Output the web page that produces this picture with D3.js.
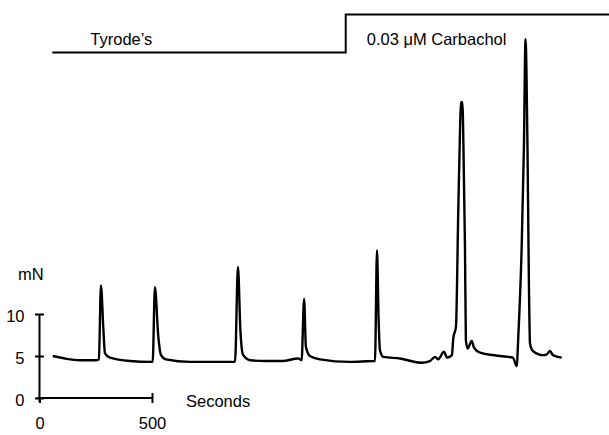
<!DOCTYPE html>
<html>
<head>
<meta charset="utf-8">
<script src="https://cdn.jsdelivr.net/npm/d3@7"></script>
<style>
  body { margin: 0; background: #fff; }
  text { font-family: "Liberation Sans", Arial, sans-serif; fill: #000; }
</style>
</head>
<body>
<script>
// Force trace (mN) against time (s)
const timeSec = [59, 113, 180, 254, 264, 273, 284, 291, 313, 402, 499, 503, 513, 528, 540, 562,
  669, 780, 869, 882, 893, 904, 936, 1000, 1080, 1150, 1165, 1176, 1184, 1202, 1247, 1380,
  1487, 1491, 1500, 1507, 1513, 1528, 1602, 1699, 1735, 1758, 1771, 1798, 1811, 1833, 1839,
  1851, 1861, 1869, 1873, 1880, 1883, 1891, 1895, 1903, 1921, 1931, 1958, 2047, 2104, 2121,
  2128, 2143, 2153, 2160, 2169, 2175, 2180, 2193, 2238, 2255, 2269, 2282, 2321];
const forceMN = [5.0, 4.7, 4.5, 4.5, 4.6, 13.4, 8.1, 5.3, 4.8, 4.4, 4.3, 4.3, 13.2, 7.3, 5.1, 4.6,
  4.3, 4.3, 4.3, 15.6, 8.0, 5.2, 4.5, 4.4, 4.4, 4.7, 4.5, 11.8, 6.1, 5.0, 4.6, 4.3,
  4.4, 4.4, 17.6, 9.5, 5.7, 4.9, 4.7, 4.2, 4.4, 4.9, 4.6, 5.5, 4.8, 5.1, 7.1,
  8.5, 22.0, 31.9, 35.2, 35.2, 31.9, 18.0, 6.9, 5.9, 6.8, 6.0, 5.4, 5.0, 4.8, 3.8,
  7.3, 18.0, 29.9, 42.7, 29.4, 14.0, 6.5, 5.6, 5.1, 5.2, 5.6, 5.1, 4.8];

// Protocol bar: solution phases
const phaseLabels = ["Tyrode\u2019s", "0.03 \u03bcM Carbachol"];
const phaseStart = [57, 1361];
const phaseEnd = [1361, 2540];
const phaseLevel = [0, 1];

// Scale bars
const yTicks = [0, 5, 10];
const xTicks = [0, 500];

const width = 609, height = 435;
const fontSize = 16.5;

const svg = d3.select("body").append("svg")
  .attr("width", width)
  .attr("height", height);

// 500 s spans ~112.5 px, 5 mN spans 42 px
const xScale = d3.scaleLinear().domain([0, 500]).range([39.5, 152]);
const yScale = d3.scaleLinear().domain([0, 10]).range([398, 314]);
const bandScale = d3.scaleLinear().domain([0, 1]).range([52.5, 14.5]);

// Trace
const line = d3.line()
  .x((d, i) => xScale(timeSec[i]))
  .y(d => yScale(d))
  .curve(d3.curveMonotoneX);

svg.append("path")
  .datum(forceMN)
  .attr("d", line)
  .attr("fill", "none")
  .attr("stroke", "#000")
  .attr("stroke-width", 2.4)
  .attr("stroke-linejoin", "round");

// Y scale bar
const yAxis = svg.append("g")
  .attr("transform", `translate(${xScale(0)},0)`)
  .call(d3.axisLeft(yScale).tickValues(yTicks).tickSize(4).tickPadding(11).tickSizeOuter(0));
yAxis.select(".domain").remove();
yAxis.selectAll(".tick line").attr("x1", -4.5).attr("x2", 4.5).attr("stroke-width", 2);
yAxis.selectAll(".tick text").attr("font-size", fontSize).attr("dy", "0.46em");
yAxis.append("line")
  .attr("x1", 0).attr("x2", 0)
  .attr("y1", yScale(0) + 4).attr("y2", yScale(10))
  .attr("stroke", "#000").attr("stroke-width", 2);

// X scale bar
const xAxis = svg.append("g")
  .attr("transform", `translate(0,${yScale(0)})`)
  .call(d3.axisBottom(xScale).tickValues(xTicks).tickSize(5).tickPadding(14.5).tickSizeOuter(0));
xAxis.select(".domain").remove();
xAxis.selectAll(".tick line").attr("y1", d => d === 0 ? 0 : -5).attr("stroke-width", 2);
xAxis.selectAll(".tick text").attr("font-size", fontSize);
xAxis.append("line")
  .attr("x1", xScale(0) - 2.5).attr("x2", xScale(500))
  .attr("y1", 0).attr("y2", 0)
  .attr("stroke", "#000").attr("stroke-width", 2);

svg.append("text").attr("x", 18).attr("y", 280).attr("font-size", fontSize).text("mN");
svg.append("text").attr("x", 186).attr("y", 407).attr("font-size", fontSize).text("Seconds");

// Protocol bar
const stepPts = [];
phaseStart.forEach((s, i) => {
  stepPts.push([xScale(s), bandScale(phaseLevel[i])]);
  stepPts.push([xScale(phaseEnd[i]), bandScale(phaseLevel[i])]);
});
svg.append("path")
  .attr("d", d3.line()(stepPts))
  .attr("fill", "none")
  .attr("stroke", "#000")
  .attr("stroke-width", 2);

const labelDx = [38, 21];
svg.selectAll(".phase-label")
  .data(phaseLabels)
  .join("text")
  .attr("class", "phase-label")
  .attr("x", (d, i) => xScale(phaseStart[i]) + labelDx[i])
  .attr("y", 45)
  .attr("font-size", fontSize)
  .text(d => d);
</script>
</body>
</html>
